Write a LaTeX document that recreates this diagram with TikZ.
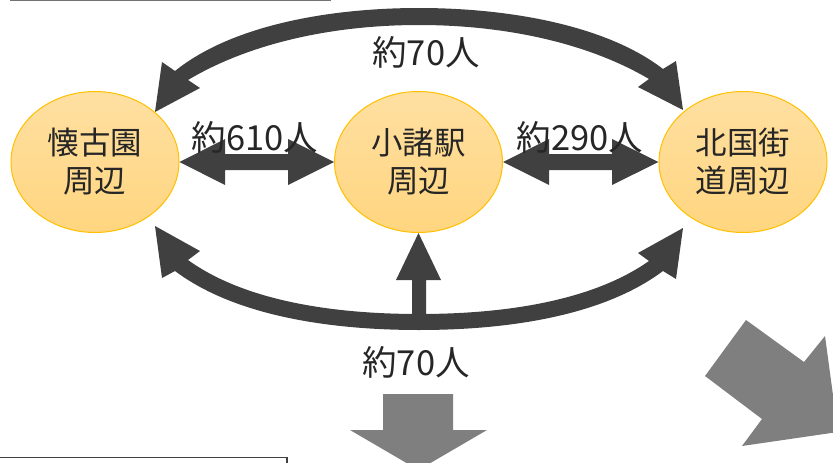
\documentclass[tikz,border=0pt]{standalone}
\usepackage{fontspec}
\setmainfont{Noto Sans CJK JP}
\usetikzlibrary{shapes.geometric}
\definecolor{arrowdark}{HTML}{404040}
\definecolor{arrowgray}{HTML}{7F7F7F}
\definecolor{inktext}{HTML}{262626}
\definecolor{ringgold}{HTML}{FFC000}
\definecolor{Gtop}{HTML}{FFE0A2}
\definecolor{Gbot}{HTML}{FFD57F}
\tikzset{
  area/.style={ellipse,draw=ringgold,line width=1pt,top color=Gtop,bottom color=Gbot,
    minimum width=168pt,minimum height=141pt,inner sep=0pt,align=center,
    text=inktext,font=\fontsize{31.5}{38}\selectfont},
  flow/.style={fill=arrowdark,draw=none},
  outflow/.style={fill=arrowgray,draw=none},
  count/.style={text=inktext,inner sep=0pt,font=\fontsize{34.5}{38}\selectfont},
  toprule/.style={draw=black!55,line width=2pt},
  boxrule/.style={draw=arrowdark,line width=1.4pt}
}
\begin{document}
\begin{tikzpicture}[x=1pt,y=-1pt]
\useasboundingbox (0,0) rectangle (833,463);
\clip (0,0) rectangle (833,463);
\node[area] (kaiko) at (95,162) {懐古園\\周辺};
\node[area] (komoro) at (418.5,162) {小諸駅\\周辺};
\node[area] (hokkoku) at (743,162) {北国街\\道周辺};
% top curved double arrow
\fill[flow] (155,112) -- (162,62) -- (175,71)
  .. controls (232,25) and (330,8) .. (419,8)
  .. controls (508,8) and (606,25) .. (663,69)
  -- (676,61) -- (683,110) -- (638,87) -- (649,79)
  .. controls (588,43) and (505,25) .. (419,25)
  .. controls (333,25) and (250,43) .. (188,80)
  -- (200,88) -- cycle;
% bottom curved double arrow
\fill[flow] (155,226) -- (200,251) -- (188,260)
  .. controls (245,301) and (333,314) .. (419,314)
  .. controls (505,314) and (592,301) .. (649,261)
  -- (638,253) -- (683,228) -- (676,279) -- (663,271)
  .. controls (603,316) and (508,330) .. (419,330)
  .. controls (330,330) and (235,316) .. (175,271)
  -- (162,278) -- cycle;
% up arrow
\fill[flow] (komoro.south) -- (441,280) -- (426,280) -- (426,320) -- (412,320) -- (412,280) -- (396,280) -- cycle;
% horizontal double arrows
\fill[flow] (kaiko.east) -- (225,139) -- (225,154) -- (288,154) -- (288,139) -- (komoro.west) -- (288,185) -- (288,170) -- (225,170) -- (225,185) -- cycle;
\fill[flow] (komoro.east) -- (549,139) -- (549,154) -- (612,154) -- (612,139) -- (hokkoku.west) -- (612,185) -- (612,170) -- (549,170) -- (549,185) -- cycle;
% gray outflow arrows
\fill[outflow] (383,394) -- (453,394) -- (453,430) -- (487,430) -- (418.5,470) -- (350,430) -- (383,430) -- cycle;
\fill[outflow] (746,320) -- (804,362) -- (825,336) -- (838,432) -- (742,446) -- (762,419) -- (705,376) -- cycle;
% labels
\node[count] (l1) at (426,52) {約70人};
\node[count] (l2) at (255,137) {約610人};
\node[count] (l3) at (580,137) {約290人};
\node[count] (l4) at (416,362) {約70人};
% frame fragments
\draw[toprule] (10,0) -- (331,0);
\draw[boxrule] (0,457.3) -- (286.8,457.3) -- (286.8,465);
\end{tikzpicture}
\end{document}
